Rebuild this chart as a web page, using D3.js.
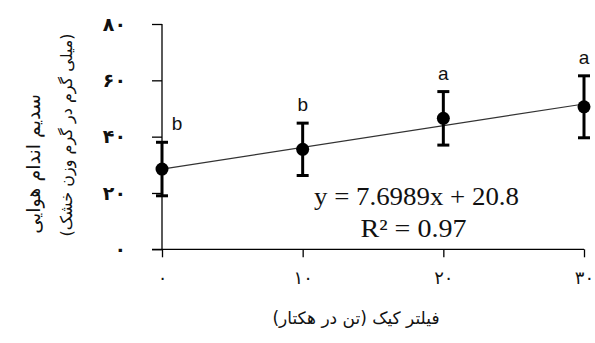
<!DOCTYPE html>
<html><head><meta charset="utf-8">
<script src="https://cdn.jsdelivr.net/npm/d3@7/dist/d3.min.js"></script>
<style>body{margin:0;background:#fff}svg{display:block}</style>
</head><body>
<svg id="c" width="595" height="343"></svg>
<script>
const xValues = [0, 10, 20, 30];
const means = [28.5, 35.5, 46.5, 50.6];
const errors = [9.5, 9.3, 9.5, 11.0];
const letters = ["b", "b", "a", "a"];
const yTicks = [0, 20, 40, 60, 80];
const xTicks = [0, 10, 20, 30];
const slope = 7.6989, intercept = 20.8;
const eqText = ["y = 7.6989x + 20.8", "R² = 0.97"];
const yTitle = ["سدیم اندام هوایی", "(میلی گرم در گرم وزن خشک)"];
const xTitle = "فیلتر کیک (تن در هکتار)";

const fa = v => String(v).replace(/\d/g, d => "۰۱۲۳۴۵۶۷۸۹"[d]);
const svg = d3.select("#c");
const x = d3.scaleLinear().domain([0, 30]).range([162, 584]);
const y = d3.scaleLinear().domain([0, 80]).range([249.3, 24]);
const pfont = "DejaVu Sans, Noto Sans, sans-serif";

// axes
const ya = svg.append("g").attr("transform", `translate(${x(0)},0)`)
  .call(d3.axisLeft(y).tickValues(yTicks).tickSize(10).tickPadding(26).tickFormat(fa));
ya.select(".domain").remove();
ya.selectAll(".tick line").attr("stroke", "#000").attr("stroke-width", 1.3);
ya.selectAll("text").attr("font-family", pfont).attr("font-size", 19).attr("font-weight", "bold").attr("fill", "#111");

const xa = svg.append("g").attr("transform", `translate(0,${y(0)})`)
  .call(d3.axisBottom(x).tickValues(xTicks).tickSize(8).tickPadding(14).tickFormat(fa));
xa.select(".domain").remove();
xa.selectAll(".tick line").attr("stroke", "#000").attr("stroke-width", 1.3);
xa.selectAll("text").attr("font-family", pfont).attr("font-size", 18).attr("fill", "#111");

svg.append("line").attr("x1", x(0)).attr("x2", x(0)).attr("y1", y(80)).attr("y2", y(0))
  .attr("stroke", "#000").attr("stroke-width", 1.3);
svg.append("line").attr("x1", x(0) - 10).attr("x2", x(30)).attr("y1", y(0)).attr("y2", y(0))
  .attr("stroke", "#000").attr("stroke-width", 1.3);

// trendline (x index 1..4)
const trend = v => slope * (v / 10 + 1) + intercept;
svg.append("line").attr("x1", x(0)).attr("x2", x(30)).attr("y1", y(trend(0))).attr("y2", y(trend(30)))
  .attr("stroke", "#333").attr("stroke-width", 1.2);

// error bars
const g = svg.append("g");
xValues.forEach((v, i) => {
  const cx = x(v), t = y(means[i] + errors[i]), b = y(means[i] - errors[i]);
  g.append("line").attr("x1", cx).attr("x2", cx).attr("y1", t).attr("y2", b).attr("stroke", "#000").attr("stroke-width", 3);
  [t, b].forEach(yy => g.append("line").attr("x1", cx - 6).attr("x2", cx + 6).attr("y1", yy).attr("y2", yy)
    .attr("stroke", "#000").attr("stroke-width", 3));
  g.append("circle").attr("cx", cx).attr("cy", y(means[i])).attr("r", 6.5).attr("fill", "#000");
  g.append("text").attr("x", i === 0 ? cx + 15 : cx).attr("y", t - 12)
    .attr("text-anchor", "middle").attr("font-family", "Liberation Sans, Arial, sans-serif")
    .attr("font-size", 19).attr("fill", "#111").text(letters[i]);
});

// equation
svg.append("text").attr("x", 416.5).attr("y", 205).attr("text-anchor", "middle")
  .attr("font-family", "Liberation Serif, Times New Roman, serif").attr("font-size", 25).attr("fill", "#111")
  .attr("textLength", 205).attr("lengthAdjust", "spacingAndGlyphs").text(eqText[0]);
svg.append("text").attr("x", 413.5).attr("y", 237).attr("text-anchor", "middle")
  .attr("font-family", "Liberation Serif, Times New Roman, serif").attr("font-size", 25).attr("fill", "#111")
  .attr("textLength", 106).attr("lengthAdjust", "spacingAndGlyphs").text(eqText[1]);

// titles
svg.append("text").attr("transform", "translate(40,164) rotate(-90)").attr("text-anchor", "middle")
  .attr("font-family", pfont).attr("font-size", 19).attr("fill", "#111").attr("direction", "rtl").text(yTitle[0]);
svg.append("text").attr("transform", "translate(72,135) rotate(-90)").attr("text-anchor", "middle")
  .attr("font-family", pfont).attr("font-size", 16).attr("fill", "#111").attr("direction", "rtl").text(yTitle[1]);
svg.append("text").attr("x", 356).attr("y", 324).attr("text-anchor", "middle")
  .attr("font-family", pfont).attr("font-size", 17).attr("fill", "#111").attr("direction", "rtl").text(xTitle);
</script>
</body></html>
